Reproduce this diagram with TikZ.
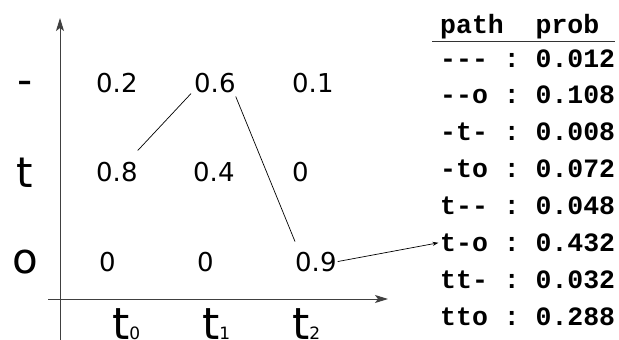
\documentclass[tikz,border=0pt]{standalone}
\usepackage{fontspec}
\setmainfont{DejaVu Sans}
\setmonofont{Liberation Mono}
\usetikzlibrary{arrows.meta,calc}
\begin{document}
\begin{tikzpicture}[x=1pt,y=-1pt,
  num/.style={font=\fontsize{26}{30}\selectfont, inner sep=0pt, anchor=base west},
  rowlab/.style={font=\fontsize{42}{48}\selectfont, inner sep=0pt, anchor=base},
  tlab/.style={font=\fontsize{44}{50}\selectfont, inner sep=0pt, anchor=base west},
  tabtext/.style={font=\ttfamily\bfseries\fontsize{26.5}{30}\selectfont, inner sep=0pt, anchor=base west},
  axis/.style={draw=black!75, line width=1pt, -{Stealth[length=13pt,width=8pt,inset=3pt]}},
  conn/.style={draw=black, line width=0.7pt},
  pointer/.style={draw=black, line width=0.7pt, -{Stealth[length=6pt,width=4pt]}}]
\useasboundingbox (0,0) rectangle (619,340);
\fill[white] (0,0) rectangle (619,340);

% axes
\coordinate (vbot) at (60,342);
\coordinate (vtop) at (60,18);
\coordinate (hleft) at (48,299);
\coordinate (hright) at (388,299);
\draw[axis] (vbot) -- (vtop);
\draw[axis] (hleft) -- (hright);

% row labels
\node[rowlab] (lminus) at (25,94) {-};
\node[rowlab] (lt) at (25,187) {t};
\node[rowlab] (lo) at (25,273) {o};

% column labels
\node[tlab] (t0) at (112,339) {t{\fontsize{17}{20}\selectfont 0}};
\node[tlab] (t1) at (202,339) {t{\fontsize{17}{20}\selectfont 1}};
\node[tlab] (t2) at (292,339) {t{\fontsize{17}{20}\selectfont 2}};

% grid values
\node[num] (n02) at (96,92.5) {0.2};
\node[num] (n06) at (194,92.5) {0.6};
\node[num] (n01) at (292,92.5) {0.1};
\node[num] (n08) at (96,181.5) {0.8};
\node[num] (n04) at (193,181.5) {0.4};
\node[num] (n0t) at (292,181.5) {0};
\node[num] (n00a) at (99,271) {0};
\node[num] (n00b) at (197,271) {0};
\node[num] (n09) at (295,271) {0.9};

% table
\node[tabtext] (hdr) at (440,33) {path~~prob};
\draw[black!80, line width=1pt] ([shift={(-8,8)}]hdr.base west) -- ([shift={(16,8)}]hdr.base east);
\node[tabtext] (r0) at (440,67) {--- : 0.012};
\node[tabtext] (r1) at (440,103.9) {--o : 0.108};
\node[tabtext] (r2) at (440,140.8) {-t- : 0.008};
\node[tabtext] (r3) at (440,177.7) {-to : 0.072};
\node[tabtext] (r4) at (440,214.6) {t-- : 0.048};
\node[tabtext] (r5) at (440,251.5) {t-o : 0.432};
\node[tabtext] (r6) at (440,288.4) {tt- : 0.032};
\node[tabtext] (r7) at (440,325.3) {tto : 0.288};

% path connectors
\draw[conn] ([shift={(0,-11.5)}]n08.north east) -- ([shift={(-3,0.5)}]n06.south west);
\draw[conn] ([shift={(0,3.5)}]n06.south east) -- ([shift={(0,-10)}]n09.north west);
\draw[pointer] ([xshift=1pt]n09.east) -- ([xshift=-1.5pt]r5.west);
\end{tikzpicture}
\end{document}
